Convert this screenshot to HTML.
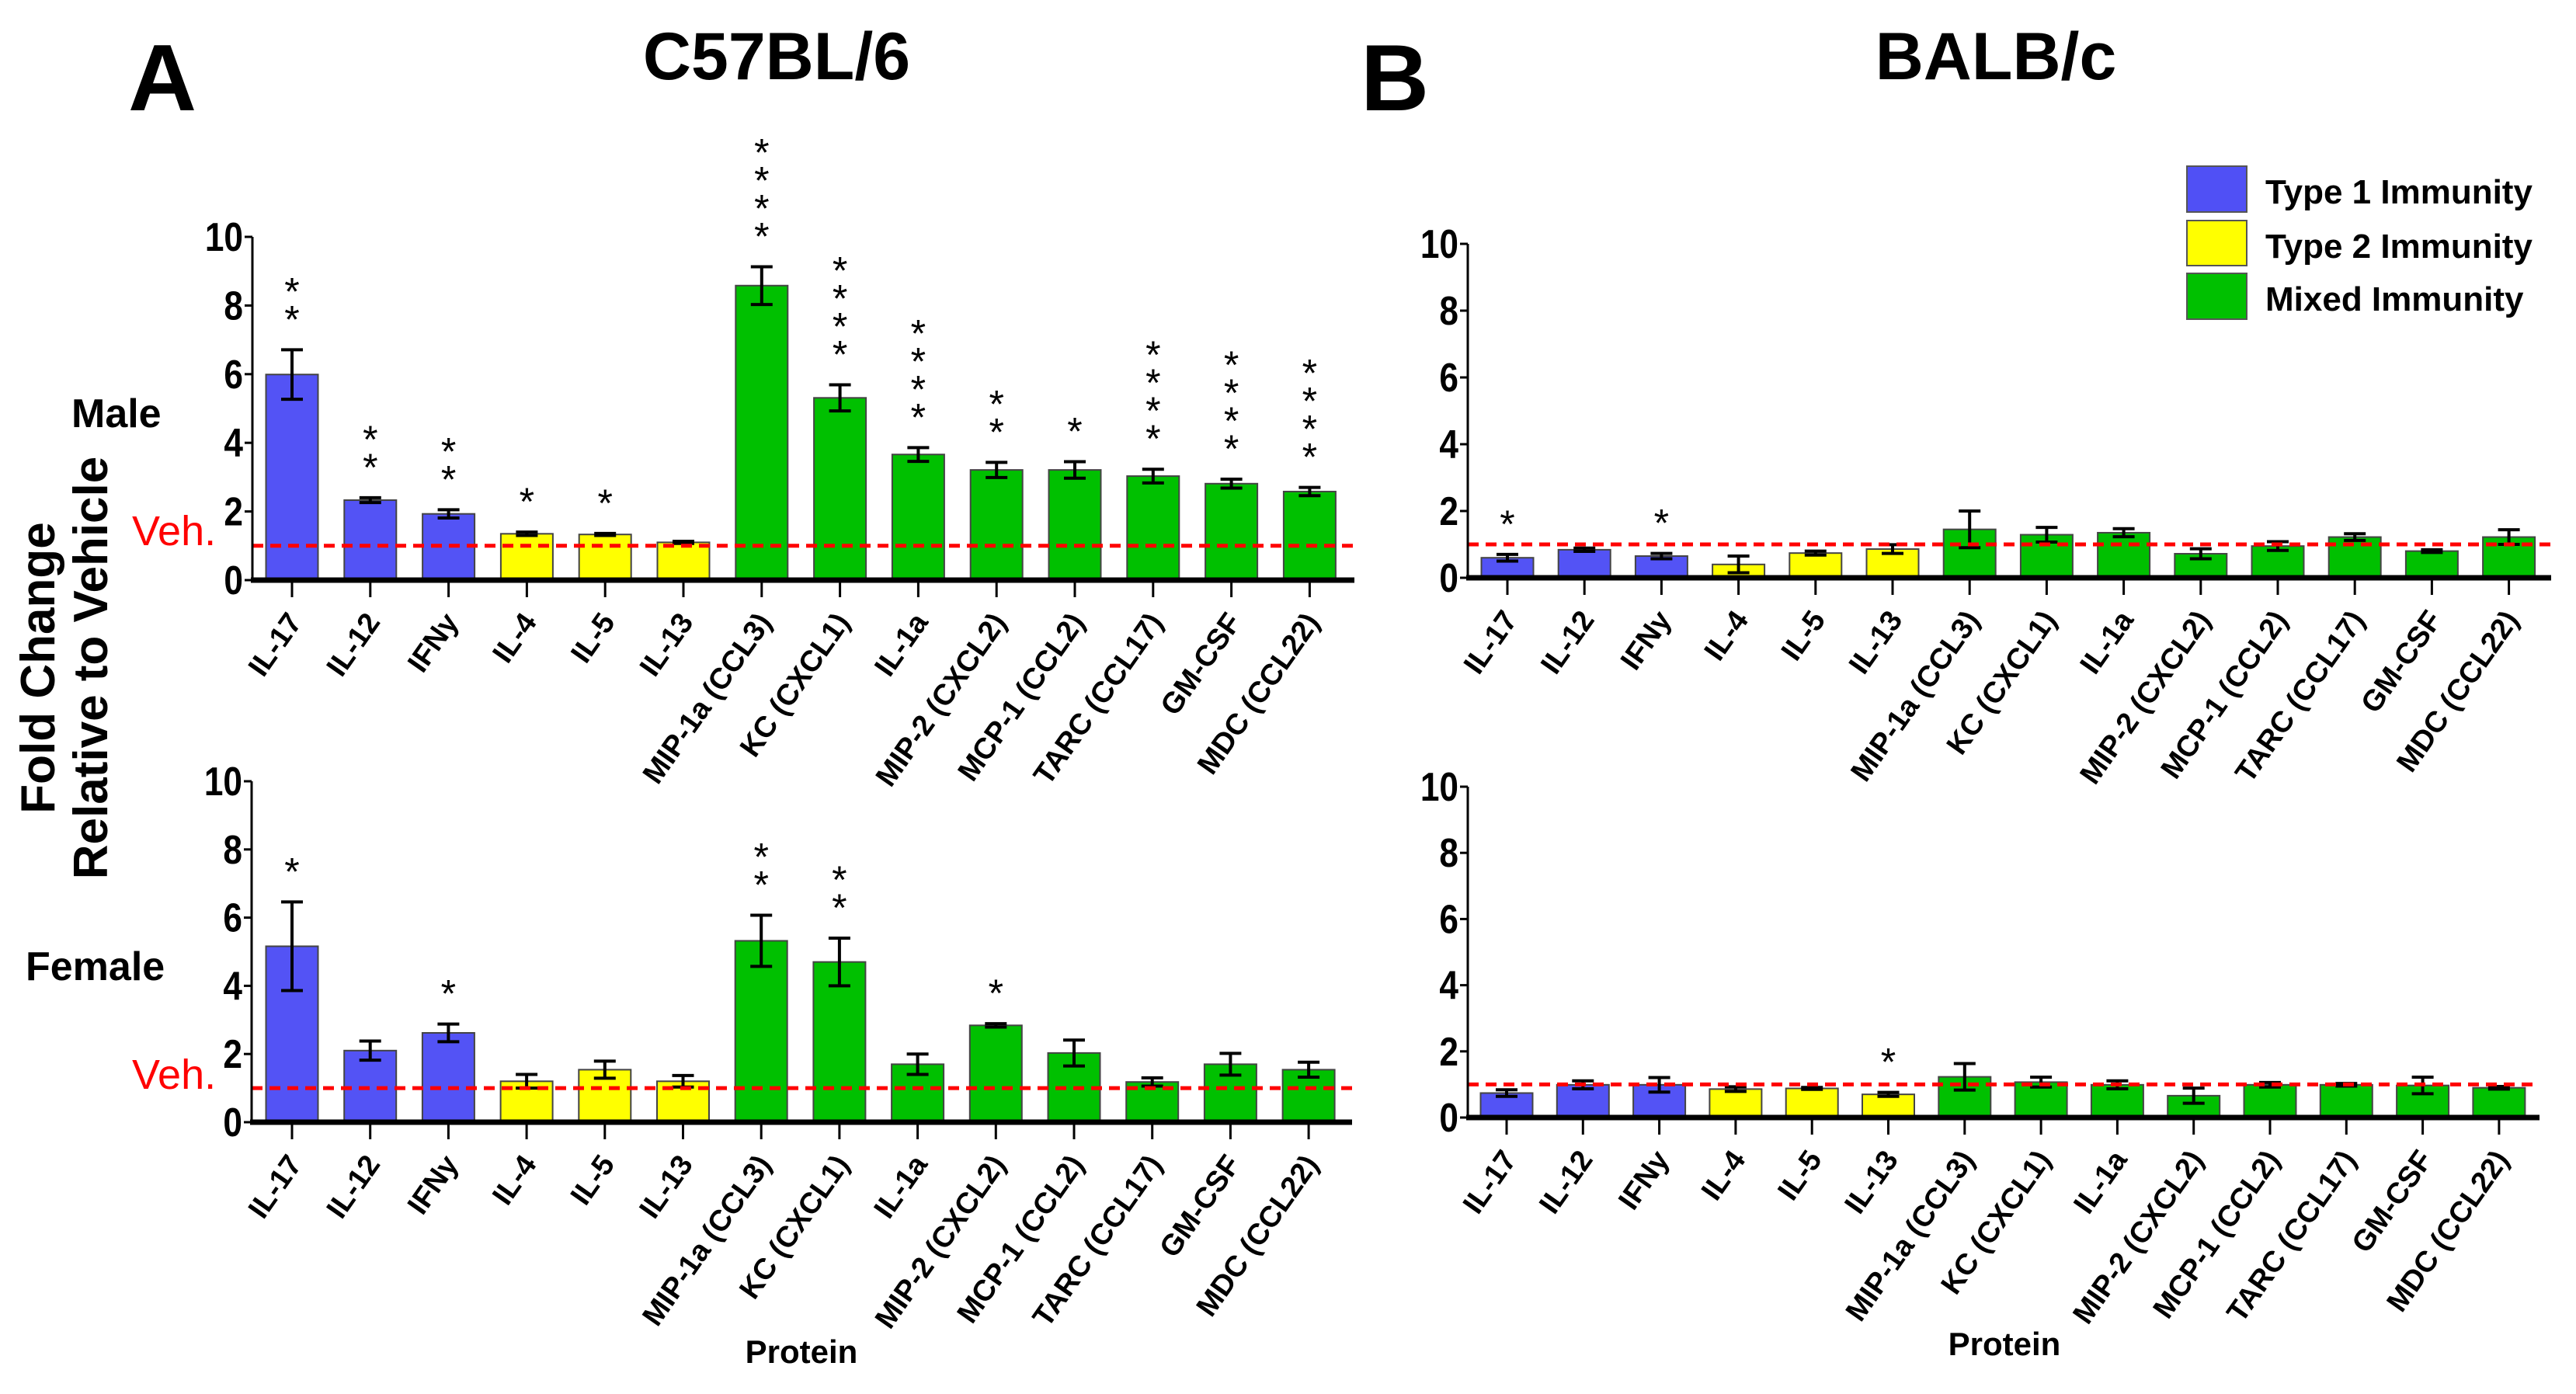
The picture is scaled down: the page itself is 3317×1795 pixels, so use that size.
<!DOCTYPE html>
<html><head><meta charset="utf-8"><style>
body{margin:0;background:#fff}
svg text{font-family:"Liberation Sans",sans-serif;font-weight:bold}
</style></head><body>
<svg id="chart" width="3317" height="1790" viewBox="0 0 3317 1790" xmlns="http://www.w3.org/2000/svg">
<text x="165" y="142" font-size="122">A</text>
<text x="1000" y="102" font-size="86" text-anchor="middle">C57BL/6</text>
<text x="1752" y="142" font-size="122">B</text>
<text x="2570" y="102" font-size="86" text-anchor="middle">BALB/c</text>
<text x="92" y="550" font-size="52">Male</text>
<text x="33" y="1262" font-size="52">Female</text>
<text x="170" y="702" font-size="54" fill="#f00" style="font-weight:normal">Veh.</text>
<text x="170" y="1402" font-size="54" fill="#f00" style="font-weight:normal">Veh.</text>
<text transform="translate(70,860) rotate(-90)" font-size="62" text-anchor="middle">Fold Change</text>
<text transform="translate(138,860) rotate(-90)" font-size="62" text-anchor="middle">Relative to Vehicle</text>
<text x="1032" y="1755" font-size="42" text-anchor="middle">Protein</text>
<text x="2581" y="1745" font-size="42" text-anchor="middle">Protein</text>
<g>
<rect x="2816" y="214" width="77" height="59" fill="#5050f5" stroke="#555" stroke-width="2"/>
<text x="2917" y="262" font-size="44">Type 1  Immunity</text>
<rect x="2816" y="284" width="77" height="58" fill="#ffff00" stroke="#555" stroke-width="2"/>
<text x="2917" y="332" font-size="44">Type 2 Immunity</text>
<rect x="2816" y="352" width="77" height="59" fill="#00c000" stroke="#555" stroke-width="2"/>
<text x="2917" y="400" font-size="44">Mixed Immunity</text>
</g>
<g id="plots"></g>
</svg>
<script>
const categories=["IL-17","IL-12","IFNy","IL-4","IL-5","IL-13","MIP-1a (CCL3)","KC (CXCL1)","IL-1a","MIP-2 (CXCL2)","MCP-1 (CCL2)","TARC (CCL17)","GM-CSF","MDC (CCL22)"];
const groups=[1,1,1,2,2,2,3,3,3,3,3,3,3,3];
const yTicks=[0,2,4,6,8,10];
const maleC57=[5.99,2.33,1.93,1.35,1.33,1.1,8.58,5.31,3.66,3.21,3.21,3.03,2.81,2.58];
const maleC57Err=[0.72,0.07,0.12,0.05,0.03,0.03,0.55,0.38,0.2,0.22,0.24,0.2,0.13,0.12];
const maleC57Stars=[2,2,2,1,1,0,4,4,4,2,1,4,4,4];
const femaleC57=[5.16,2.1,2.62,1.2,1.54,1.2,5.32,4.7,1.7,2.84,2.03,1.18,1.7,1.54];
const femaleC57Err=[1.3,0.28,0.26,0.2,0.25,0.17,0.75,0.7,0.3,0.05,0.38,0.12,0.32,0.22];
const femaleC57Stars=[1,0,1,0,0,0,2,2,0,1,0,0,0,0];
const maleBalb=[0.6,0.84,0.65,0.4,0.74,0.86,1.45,1.29,1.35,0.72,0.95,1.22,0.8,1.22];
const maleBalbErr=[0.1,0.05,0.08,0.25,0.06,0.13,0.55,0.22,0.12,0.15,0.13,0.1,0.04,0.22];
const maleBalbStars=[1,0,1,0,0,0,0,0,0,0,0,0,0,0];
const femaleBalb=[0.74,0.99,0.99,0.86,0.88,0.7,1.23,1.07,0.99,0.66,0.99,0.99,0.97,0.9];
const femaleBalbErr=[0.1,0.12,0.22,0.07,0.03,0.06,0.4,0.15,0.12,0.23,0.07,0.04,0.25,0.04];
const femaleBalbStars=[0,0,0,0,0,1,0,0,0,0,0,0,0,0];
const vehLevel=1;

const colors={1:"#5353f5",2:"#ffff00",3:"#00c000"};
const NS="http://www.w3.org/2000/svg";
const root=document.getElementById('plots');
function mk(tag,attrs,parent){const e=document.createElementNS(NS,tag);for(const k in attrs)e.setAttribute(k,attrs[k]);(parent||root).appendChild(e);return e;}

function panel(name,cfg,vals,errs,stars){
  const g=mk('g',{});
  
  
  const yS=v=>cfg.y0-(cfg.y0-cfg.y10)*v/10;
  const xS=i=>cfg.first+cfg.dx*i;
  yTicks.forEach(t=>{
    const l=mk('line',{x1:cfg.ax-10,x2:cfg.ax,y1:yS(t),y2:yS(t),stroke:'#000','stroke-width':3},g);
    
    
    const tx=mk('text',{x:cfg.ax-12,y:yS(t)+18,'font-size':52,'text-anchor':'end'},g);
    
    
    tx.setAttribute('transform','translate('+(cfg.ax-12)+',0) scale(0.85,1) translate('+(-(cfg.ax-12))+',0)');
    tx.textContent=t;
  });
  vals.forEach((v,i)=>{
    const x=xS(i),w=67;
    const r=mk('rect',{x:x-w/2,y:yS(v),width:w,height:yS(0)-yS(v),fill:colors[groups[i]],stroke:'#444','stroke-width':2},g);
    
    
    const e=errs[i];
    const eg=mk('path',{d:'M'+x+' '+yS(v+e)+'V'+yS(Math.max(0,v-e))+'M'+(x-14)+' '+yS(v+e)+'H'+(x+14)+'M'+(x-14)+' '+yS(Math.max(0,v-e))+'H'+(x+14),stroke:'#000','stroke-width':4,fill:'none'},g);
    
    
    for(let s=0;s<stars[i];s++){
      const st=mk('text',{x:x,y:yS(v+e)-22-s*36,'font-size':50,'text-anchor':'middle',style:'font-weight:normal'},g);
      
      
      st.textContent='*';
    }
    const tk=mk('line',{x1:x,x2:x,y1:yS(0),y2:yS(0)+22,stroke:'#000','stroke-width':3},g);
    
    
    const lb=mk('text',{'font-size':38,'text-anchor':'end',transform:'translate('+(x+14)+','+(yS(0)+54)+') rotate(-55)'},g);
    
    
    lb.textContent=categories[i];
  });
  const veh=mk('line',{x1:cfg.ax,x2:cfg.end,y1:yS(vehLevel),y2:yS(vehLevel),stroke:'#f00','stroke-width':5,'stroke-dasharray':'14 9'},g);
  
  
  const ya=mk('line',{x1:cfg.ax,x2:cfg.ax,y1:cfg.y10,y2:cfg.y0,stroke:'#000','stroke-width':3},g);
  
  
  const xa=mk('line',{x1:cfg.ax-2,x2:cfg.end,y1:cfg.y0,y2:cfg.y0,stroke:'#000','stroke-width':7},g);
  
  
}
panel('male-c57',{ax:325,first:376,dx:100.8,y0:747,y10:305,end:1744},maleC57,maleC57Err,maleC57Stars);
panel('female-c57',{ax:324,first:376,dx:100.7,y0:1445,y10:1006,end:1741},femaleC57,femaleC57Err,femaleC57Stars);
panel('male-balb',{ax:1890,first:1941,dx:99.2,y0:744,y10:314,end:3285},maleBalb,maleBalbErr,maleBalbStars);
panel('female-balb',{ax:1890,first:1940,dx:98.3,y0:1439,y10:1013,end:3270},femaleBalb,femaleBalbErr,femaleBalbStars);
</script>
</body></html>
